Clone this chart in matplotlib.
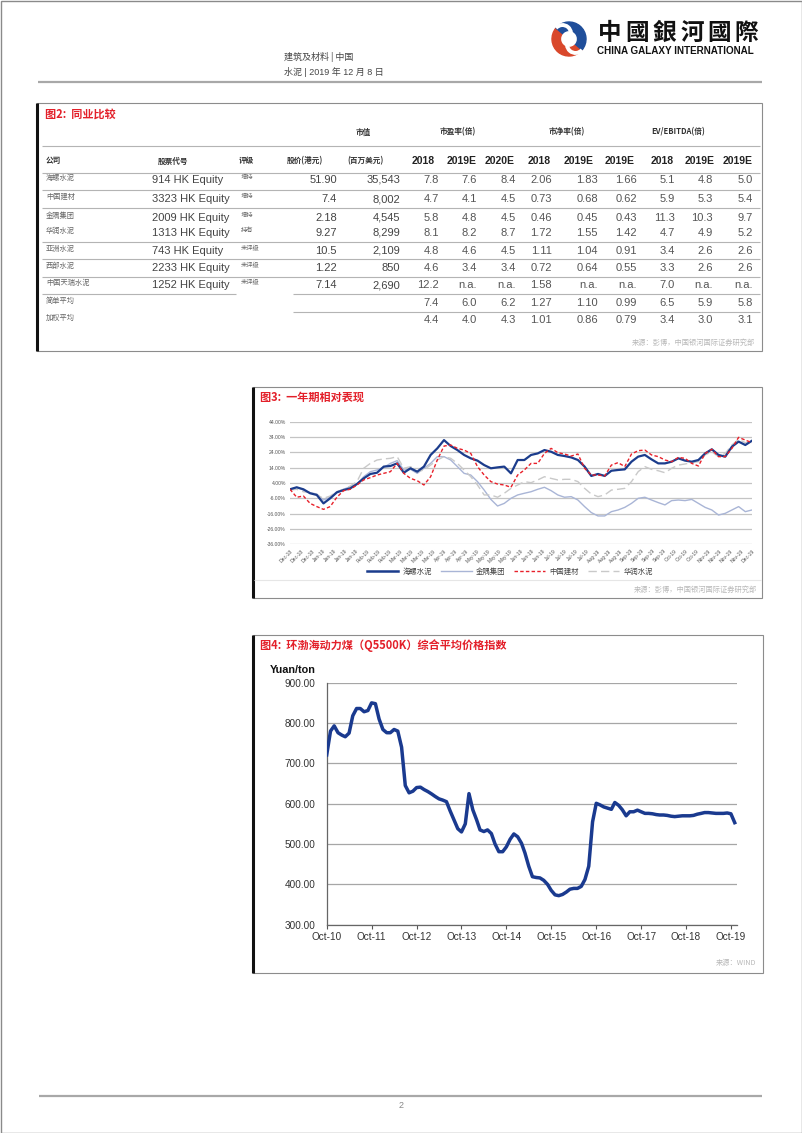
import numpy as np
import pandas as pd
import matplotlib
matplotlib.use('Agg')
import matplotlib.pyplot as plt
from matplotlib.patches import Rectangle, Wedge, Arc
from matplotlib.lines import Line2D

plt.rcParams['font.family'] = ['Liberation Sans', 'Noto Sans CJK SC', 'DejaVu Sans']
CJK = ['Noto Sans CJK SC', 'DejaVu Sans']
RED = '#E3202A'

# ---------------- table data (图2) ----------------
companies = ['海螺水泥', '中国建材', '金隅集团', '华润水泥', '亚洲水泥', '西部水泥',
             '中国天瑞水泥', '简单平均', '加权平均']
tickers = ['914 HK Equity', '3323 HK Equity', '2009 HK Equity', '1313 HK Equity',
           '743 HK Equity', '2233 HK Equity', '1252 HK Equity']
ratings = ['增持', '增持', '增持', '持有', '未评级', '未评级', '未评级']
prices = ['51.90', '7.4', '2.18', '9.27', '10.5', '1.22', '7.14']
mktcap = ['35,543', '8,002', '4,545', '8,299', '2,109', '850', '2,690']
pe_2018 = ['7.8', '4.7', '5.8', '8.1', '4.8', '4.6', '12.2', '7.4', '4.4']
pe_2019 = ['7.6', '4.1', '4.8', '8.2', '4.6', '3.4', 'n.a.', '6.0', '4.0']
pe_2020 = ['8.4', '4.5', '4.5', '8.7', '4.5', '3.4', 'n.a.', '6.2', '4.3']
pb_2018 = ['2.06', '0.73', '0.46', '1.72', '1.11', '0.72', '1.58', '1.27', '1.01']
pb_2019 = ['1.83', '0.68', '0.45', '1.55', '1.04', '0.64', 'n.a.', '1.10', '0.86']
pb_2019b = ['1.66', '0.62', '0.43', '1.42', '0.91', '0.55', 'n.a.', '0.99', '0.79']
ev_2018 = ['5.1', '5.9', '11.3', '4.7', '3.4', '3.3', '7.0', '6.5', '3.4']
ev_2019 = ['4.8', '5.3', '10.3', '4.9', '2.6', '2.6', 'n.a.', '5.9', '3.0']
ev_2019b = ['5.0', '5.4', '9.7', '5.2', '2.6', '2.6', 'n.a.', '5.8', '3.1']
year_headers = ['2018', '2019E', '2020E', '2018', '2019E', '2019E', '2018', '2019E', '2019E']
group_headers = ['市盈率(倍)', '市净率(倍)', 'EV/EBITDA(倍)']

# ---------------- 图3 relative performance (%) ----------------
hailuo = [-0.1, 1.2, -0.1, -2.7, -3.8, -9.3, -6.0, -2.1, -0.6, 0.5, 3.3, 7.0, 9.9, 10.7,
          14.7, 15.1, 16.8, 10.7, 13.6, 11.4, 14.7, 22.3, 26.6, 32.0, 28.1, 25.5, 22.3,
          20.1, 18.6, 15.7, 13.6, 14.2, 14.7, 10.3, 19.0, 19.0, 22.3, 23.3, 25.5, 24.4,
          22.3, 21.6, 20.7, 19.0, 14.7, 8.6, 9.9, 8.6, 12.0, 12.5, 12.9, 17.9, 21.2, 22.3,
          19.4, 16.8, 16.8, 17.9, 20.1, 18.6, 17.9, 19.0, 23.3, 26.0, 22.3, 21.2, 27.7,
          31.0, 28.8, 31.6]
jinyu = [-0.1, 1.2, -0.6, -2.3, -3.2, -7.1, -5.3, -1.7, -0.1, 1.6, 3.3, 8.1, 11.4, 12.5,
         14.2, 16.8, 18.6, 12.5, 12.9, 10.3, 13.6, 16.8, 21.2, 21.2, 19.0, 14.7, 10.3, 9.2,
         4.9, -0.6, -6.7, -11.0, -9.3, -6.0, -3.8, -2.7, -1.7, -0.1, 1.2, -1.0, -3.8, -5.3,
         -4.9, -7.1, -11.4, -15.3, -17.5, -17.5, -14.7, -13.6, -11.9, -9.3, -6.0, -5.3,
         -7.1, -8.8, -10.3, -7.5, -7.1, -7.5, -6.7, -9.3, -11.9, -13.6, -16.9, -15.8,
         -13.6, -11.4, -14.7, -13.6]
cnbm = [-0.1, -5.3, -4.5, -9.3, -11.4, -13.2, -11.4, -5.3, -1.0, -0.1, 2.7, 6.0, 7.5, 9.2,
        10.3, 11.4, 16.8, 10.3, 7.0, 5.5, 2.7, 8.1, 19.0, 28.1, 28.8, 26.6, 25.5, 23.3, 14.7,
        9.2, 4.9, 3.3, 2.7, 1.2, 9.2, 12.5, 16.8, 16.8, 23.3, 26.6, 23.8, 22.9, 21.6, 22.9,
        13.6, 9.2, 9.2, 8.6, 15.7, 17.3, 14.7, 22.9, 25.1, 25.5, 22.3, 21.2, 19.0, 17.9,
        20.7, 20.1, 16.8, 15.1, 23.3, 26.0, 21.2, 21.2, 26.6, 33.8, 32.0, 30.3]
crc = [-0.6, -0.1, -1.7, -2.3, -3.8, -6.0, -4.5, -1.7, -0.1, 2.0, 4.9, 13.6, 16.8, 19.0,
       19.7, 20.1, 21.2, 13.6, 14.7, 11.4, 12.5, 15.7, 19.0, 21.2, 20.1, 16.8, 12.5, 8.1,
       2.7, -3.8, -3.8, -5.3, -2.7, 0.5, 2.7, 4.9, 4.2, 6.0, 8.1, 7.0, 6.0, 6.4, 6.4, 4.9,
       0.5, -3.2, -4.9, -3.8, -0.6, -0.1, 0.5, 4.9, 11.4, 14.7, 12.9, 12.0, 10.7, 13.6,
       15.7, 16.4, 17.3, 17.9, 22.3, 24.4, 21.2, 23.3, 28.8, 32.5, 30.3, 29.9]
x3_labels = ['Dec-18', 'Dec-18', 'Dec-18', 'Jan-19', 'Jan-19', 'Jan-19', 'Jan-19',
             'Feb-19', 'Feb-19', 'Feb-19', 'Mar-19', 'Mar-19', 'Mar-19', 'Mar-19',
             'Apr-19', 'Apr-19', 'Apr-19', 'May-19', 'May-19', 'May-19', 'May-19',
             'Jun-19', 'Jun-19', 'Jun-19', 'Jul-19', 'Jul-19', 'Jul-19', 'Jul-19',
             'Aug-19', 'Aug-19', 'Aug-19', 'Sep-19', 'Sep-19', 'Sep-19', 'Sep-19',
             'Oct-19', 'Oct-19', 'Oct-19', 'Nov-19', 'Nov-19', 'Nov-19', 'Nov-19', 'Dec-19']
y3_ticks = [44, 34, 24, 14, 4, -6, -16, -26, -36]

# ---------------- 图4 coal price index (monthly, from Oct-2010) ----------------
coal = [721, 780, 793, 776, 770, 766, 775, 818, 836, 836, 828, 831,
        850, 848, 810, 784, 776, 776, 784, 780, 740, 645, 627, 631,
        640, 641, 635, 630, 624, 618, 612, 609, 605, 582, 560, 538,
        530, 550, 625, 585, 560, 535, 531, 535, 526, 500, 481, 481,
        493, 512, 525, 518, 502, 478, 445, 419, 417, 416, 410, 400,
        385, 374, 372, 375, 381, 388, 390, 390, 395, 412, 445, 555,
        601, 597, 592, 589, 586, 603, 596, 585, 570, 580, 580, 584,
        580, 576, 576, 575, 573, 572, 572, 571, 569, 568, 569, 570,
        570, 570, 571, 574, 576, 578, 578, 577, 576, 576, 576, 577,
        575, 553]
coal_dates = pd.date_range('2010-10-01', periods=len(coal), freq='MS')
x4_labels = ['Oct-10', 'Oct-11', 'Oct-12', 'Oct-13', 'Oct-14', 'Oct-15', 'Oct-16',
             'Oct-17', 'Oct-18', 'Oct-19']
y4_ticks = [300, 400, 500, 600, 700, 800, 900]

W, H = 802, 1133
fig = plt.figure(figsize=(W / 100, H / 100), dpi=100)
page = fig.add_axes([0, 0, 1, 1])
page.set_xlim(0, W)
page.set_ylim(H, 0)
page.axis('off')


def box(x0, y0, x1, y1):
    page.add_patch(Rectangle((x0, y0), x1 - x0, y1 - y0, fill=False, ec='#8c8c8c', lw=0.8))
    page.plot([x0, x0], [y0, y1], color='#111111', lw=2.2, solid_capstyle='butt')


def hline(y, x0, x1, c='#b4b4b4', lw=0.8):
    page.plot([x0, x1], [y, y], color=c, lw=lw, solid_capstyle='butt')


def fig_rect(x0, y0, x1, y1):
    return [x0 / W, 1 - y1 / H, (x1 - x0) / W, (y1 - y0) / H]


# page frame, header, footer
page.add_patch(Rectangle((0.5, 0.5), W - 1, H - 1, fill=False, ec='#8a8a8a', lw=1))
page.text(284, 57, '建筑及材料 | 中国', fontsize=6.5, color='#444444', family=CJK, va='center')
page.text(284, 72, '水泥 | 2019 年 12 月 8 日', fontsize=6.5, color='#444444', va='center')
hline(82, 38, 762, c='#a8a8a8', lw=1.6)
hline(1096, 39, 762, c='#a8a8a8', lw=1.6)
page.text(401, 1105, '2', fontsize=6.5, color='#888888', ha='center', va='center')

# logo: red / blue disc split by a white S
lc, lr = (569, 39), 17
page.add_patch(Wedge(lc, lr, 40, 220, color='#D9482B'))
page.add_patch(Wedge(lc, lr, 220, 400, color='#1F4E9A'))
u = np.array([np.cos(np.radians(40)), np.sin(np.radians(40))])
page.add_patch(Arc(tuple(np.array(lc) + u * lr / 2), lr, lr, theta1=40, theta2=220,
                   color='white', lw=2.8))
page.add_patch(Arc(tuple(np.array(lc) - u * lr / 2), lr, lr, theta1=220, theta2=400,
                   color='white', lw=2.8))
page.add_patch(Wedge(lc, lr * 0.42, 0, 360, color='white'))
for i, ch in enumerate('中國銀河國際'):
    page.text(610 + 27.3 * i, 33, ch, fontsize=17, fontweight='bold', color='#111111',
              family=['Noto Sans CJK TC', 'DejaVu Sans'], ha='center', va='center')
page.text(597, 51, 'CHINA GALAXY INTERNATIONAL', fontsize=7.1, fontweight='bold',
          color='#111111', va='center')

# ---------------- table ----------------
box(37, 103, 762, 351)
page.text(45, 114, '图2:  同业比较', fontsize=8, fontweight='bold', color=RED, family=CJK, va='center')
page.text(363, 132, '市值', fontsize=5.5, fontweight='bold', color='#333333', family=CJK,
          ha='center', va='center')
for gx, g in zip([458, 567, 678], group_headers):
    page.text(gx, 132, g, fontsize=5.5, fontweight='bold', color='#333333', family=CJK,
              ha='center', va='center')
hline(145.7, 42, 760)
page.text(46, 161, '公司', fontsize=5.5, fontweight='bold', color='#333', family=CJK, va='center')
page.text(173, 161, '股票代号', fontsize=5.5, fontweight='bold', color='#333', family=CJK,
          ha='center', va='center')
page.text(239, 161, '评级', fontsize=5.5, fontweight='bold', color='#333', family=CJK, va='center')
page.text(305, 161, '股价(港元)', fontsize=5.5, fontweight='bold', color='#333', family=CJK,
          ha='center', va='center')
page.text(365, 161, '(百万美元)', fontsize=5.5, fontweight='bold', color='#333', family=CJK,
          ha='center', va='center')
year_x = [423, 462, 500, 539, 579, 620, 662, 700, 738]
for yx, yl in zip(year_x, year_headers):
    page.text(yx, 161, yl, fontsize=7.5, fontweight='bold', color='#222222',
              ha='center', va='center')
hline(172.7, 42, 760)

row_y = [180, 199, 217.7, 232.7, 250.7, 267.7, 285, 302.7, 320]
for y in [190, 208.3, 241.7, 259.3, 276.7]:
    hline(y, 42, 760)
hline(294, 42, 236)
hline(294, 293, 760)
hline(311.7, 293, 760)

num_cols = [pe_2018, pe_2019, pe_2020, pb_2018, pb_2019, pb_2019b, ev_2018, ev_2019, ev_2019b]
num_right = [439, 477, 516, 552, 598, 637, 675, 713, 753]
for i, name in enumerate(companies):
    y = row_y[i]
    page.text(46, y - 2, name, fontsize=5.2, color='#666666', family=CJK, va='center')
    if i < len(tickers):
        page.text(151.5, y, tickers[i], fontsize=8, color='#444444', va='center')
        page.text(241, y - 3, ratings[i], fontsize=4.5, color='#666666', family=CJK, va='center')
        page.text(337, y, prices[i], fontsize=8, color='#444444', ha='right', va='center')
        page.text(400, y, mktcap[i], fontsize=8, color='#444444', ha='right', va='center')
    for col, xr in zip(num_cols, num_right):
        page.text(xr, y, col[i], fontsize=8, color='#555555', ha='right', va='center')
page.text(755, 343, '来源：彭博，中国银河国际证券研究部', fontsize=5.2, color='#b8b8b8',
          family=CJK, ha='right', va='center')

# ---------------- 图3 ----------------
box(253, 387, 762, 598)
page.text(260, 397, '图3:  一年期相对表现', fontsize=8, fontweight='bold', color=RED,
          family=CJK, va='center')
hline(580, 254, 761, c='#e6e6e6', lw=0.8)
page.text(757, 590, '来源：彭博，中国银河国际证券研究部', fontsize=5.2, color='#b8b8b8',
          family=CJK, ha='right', va='center')

ax3 = fig.add_axes(fig_rect(290, 421.7, 752, 544.3))
x3 = np.arange(len(hailuo))
ax3.plot(x3, jinyu, color='#A9B5D6', lw=1.0, zorder=2, label='金隅集团')
ax3.plot(x3, crc, color='#C9C9C9', lw=1.0, ls=(0, (6, 3)), zorder=2, label='华润水泥')
ax3.plot(x3, hailuo, color='#1B3C8C', lw=1.6, zorder=3, label='海螺水泥')
ax3.plot(x3, cnbm, color='#E8202A', lw=1.0, ls=(0, (2.5, 1.6)), zorder=4, label='中国建材')
ax3.set_xlim(0, len(hailuo) - 1)
ax3.set_ylim(-36, 44)
ax3.set_yticks(y3_ticks)
ax3.set_yticklabels([f'{v:.2f}%' for v in y3_ticks])
ax3.set_xticks(np.linspace(0, len(hailuo) - 1, len(x3_labels)))
ax3.set_xticklabels(x3_labels, rotation=45, ha='right', rotation_mode='anchor')
ax3.tick_params(axis='both', length=0, labelsize=3.6, labelcolor='#555555', pad=3)
ax3.grid(axis='y', color='#c4c4c4', lw=0.9)
ax3.set_axisbelow(True)
for s in ax3.spines.values():
    s.set_visible(False)
ax3.patch.set_alpha(0)
handles = [Line2D([], [], color='#1B3C8C', lw=1.8),
           Line2D([], [], color='#A9B5D6', lw=1.0),
           Line2D([], [], color='#E8202A', lw=1.0, ls=(0, (2.5, 1.6))),
           Line2D([], [], color='#C9C9C9', lw=1.0, ls=(0, (6, 3)))]
fig.legend(handles, ['海螺水泥', '金隅集团', '中国建材', '华润水泥'], loc='center',
           bbox_to_anchor=(510 / W, 1 - 572 / H), ncol=4, frameon=False,
           prop={'family': CJK, 'size': 5.3}, handlelength=4.2, columnspacing=1.2,
           handletextpad=0.6, labelcolor='#444444')

# ---------------- 图4 ----------------
box(253, 635, 763, 973)
page.text(260, 645, '图4:  环渤海动力煤（Q5500K）综合平均价格指数', fontsize=8,
          fontweight='bold', color=RED, family=CJK, va='center')
page.text(270, 670, 'Yuan/ton', fontsize=7.8, fontweight='bold', color='#111111', va='center')
page.text(756, 963, '来源：WIND', fontsize=5.2, color='#b8b8b8', family=CJK,
          ha='right', va='center')

ax4 = fig.add_axes(fig_rect(326.7, 682.7, 737.3, 924.7))
ax4.plot(coal_dates, coal, color='#1A3A8F', lw=2.5, solid_joinstyle='round', zorder=3)
ax4.set_ylim(300, 900)
ax4.set_xlim(pd.Timestamp('2010-10-01'), pd.Timestamp('2019-11-22'))
ax4.set_yticks(y4_ticks)
ax4.set_yticklabels([f'{v:.2f}' for v in y4_ticks])
ax4.set_xticks(pd.to_datetime([f'20{lab[-2:]}-10-01' for lab in x4_labels]))
ax4.set_xticklabels(x4_labels)
ax4.tick_params(axis='x', length=3, width=0.8, color='#555555', labelsize=7.2,
                labelcolor='#333333', pad=2)
ax4.tick_params(axis='y', length=0, labelsize=7.2, labelcolor='#333333', pad=8)
ax4.grid(axis='y', color='#a6a6a6', lw=0.9)
ax4.set_axisbelow(True)
for s in ['top', 'right']:
    ax4.spines[s].set_visible(False)
for s in ['left', 'bottom']:
    ax4.spines[s].set_color('#666666')
    ax4.spines[s].set_linewidth(0.9)
ax4.patch.set_alpha(0)

fig.savefig('out.png', dpi=100)
